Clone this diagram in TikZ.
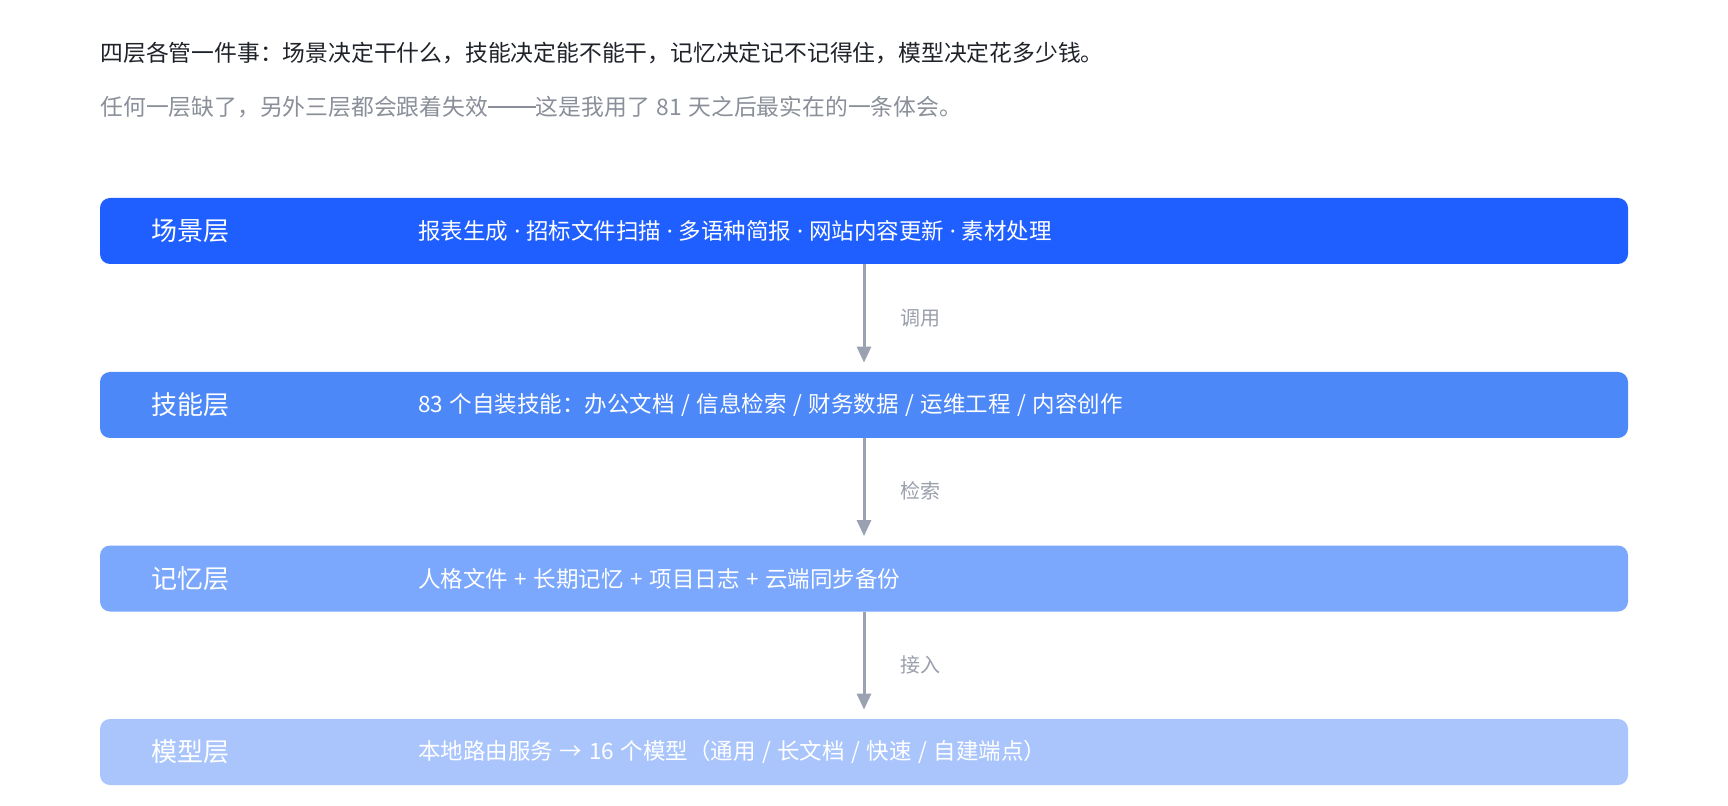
\documentclass[tikz,border=0pt]{standalone}
\usepackage{fontspec}
\setmainfont[WordSpace=1.3]{Noto Sans CJK SC}
\newfontfamily\latinf{Noto Sans}
\newcommand\sepdot{{\latinf\ ·\ }}
\newcommand\longdash{\rule[0.34em]{2.1em}{0.055em}}
\usetikzlibrary{arrows.meta}
\definecolor{cA}{HTML}{1F5FFF}
\definecolor{cB}{HTML}{4D88F8}
\definecolor{cC}{HTML}{7BA8FC}
\definecolor{cD}{HTML}{A9C5FC}
\definecolor{ttl}{HTML}{1F2329}
\definecolor{sub}{HTML}{8A8F99}
\definecolor{arr}{HTML}{9AA2B1}
\definecolor{albl}{HTML}{9A9FAB}
\tikzset{
  layer/.style={draw=none, rounded corners=5pt, minimum width=764pt, minimum height=33pt, inner sep=0pt},
  lname/.style={anchor=west, text=white, font=\fontsize{13pt}{15pt}\selectfont, inner sep=0pt},
  ldesc/.style={anchor=west, text=white, font=\fontsize{11.25pt}{13pt}\selectfont, inner sep=0pt},
  conn/.style={draw=arr, line width=1.5pt, -{Triangle[width=7pt,length=8pt]}, shorten >=4.5pt},
  elabel/.style={anchor=west, text=albl, font=\fontsize{10pt}{12pt}\selectfont, inner sep=0pt},
  ttlstyle/.style={anchor=west, text=ttl, font=\fontsize{11.4pt}{13pt}\selectfont, inner sep=0pt},
  substyle/.style={anchor=west, text=sub, font=\fontsize{11.4pt}{13pt}\selectfont, inner sep=0pt}
}
\begin{document}
\begin{tikzpicture}[x=0.5pt,y=-0.5pt]
\useasboundingbox[fill=white] (0,0) rectangle (1728,806);
\node[ttlstyle] (t1) at (100,53) {四层各管一件事：场景决定干什么，技能决定能不能干，记忆决定记不记得住，模型决定花多少钱。};
\node[substyle] (t2) at (100,107) {任何一层缺了，另外三层都会跟着失效\longdash 这是我用了 81 天之后最实在的一条体会。};

\node[layer, fill=cA] (b1) at (864,231) {};
\node[layer, fill=cB] (b2) at (864,405) {};
\node[layer, fill=cC] (b3) at (864,578.5) {};
\node[layer, fill=cD] (b4) at (864,752) {};

\node[lname] (n1) at (151,231) {场景层};
\node[ldesc] (d1) at (418,231) {报表生成\sepdot 招标文件扫描\sepdot 多语种简报\sepdot 网站内容更新\sepdot 素材处理};
\node[lname] (n2) at (151,405) {技能层};
\node[ldesc] (d2) at (418,405) {83 个自装技能：办公文档 / 信息检索 / 财务数据 / 运维工程 / 内容创作};
\node[lname] (n3) at (151,578.5) {记忆层};
\node[ldesc] (d3) at (418,578.5) {人格文件 + 长期记忆 + 项目日志 + 云端同步备份};
\node[lname] (n4) at (151,752) {模型层};
\node[ldesc] (d4) at (418,752) {本地路由服务 → 16 个模型（通用 / 长文档 / 快速 / 自建端点）};

\draw[conn] (b1.south) -- (b2.north);
\draw[conn] (b2.south) -- (b3.north);
\draw[conn] (b3.south) -- (b4.north);
\node[elabel] (e1) at (900,318) {调用};
\node[elabel] (e2) at (900,491) {检索};
\node[elabel] (e3) at (900,665) {接入};
\end{tikzpicture}
\end{document}
